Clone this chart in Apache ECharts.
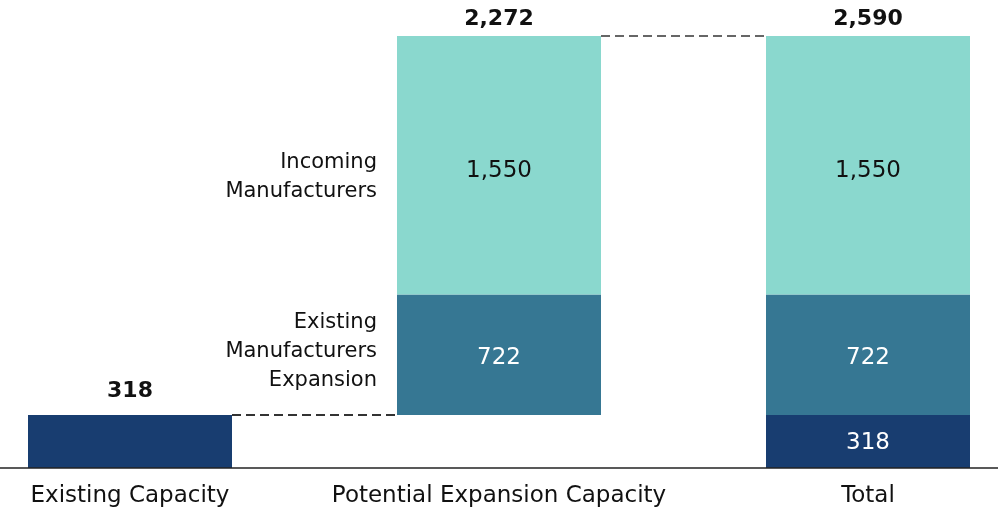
<!DOCTYPE html>
<html><head><meta charset="utf-8">
<script src="https://cdn.jsdelivr.net/npm/echarts@6/dist/echarts.min.js"></script>
<style>html,body{margin:0;padding:0;background:#fff}#c{width:998px;height:513px}</style>
</head><body><div id="c"></div>
<script>
const categories = ['Existing Capacity', 'Potential Expansion Capacity', 'Total'];
const existingCapacity = 318;
const existingMfgExpansion = 722;
const incomingMfg = 1550;
const segmentNames = ['Existing\nManufacturers\nExpansion', 'Incoming\nManufacturers'];

const potentialSum = existingMfgExpansion + incomingMfg;
const totalSum = existingCapacity + potentialSum;
const fmt = v => v.toLocaleString('en-US');

const FONT = 'DejaVu Sans';
const NAVY = '#183d70', TEAL = '#367793', LIGHT = '#8ad8ce';
const BARW = 204;
const DASH_COLORS = ['#333', '#666'];

const chart = echarts.init(document.getElementById('c'), null, {renderer: 'canvas'});
chart.setOption({
  animation: false,
  grid: {left: 130, right: 130, top: 36, bottom: 45},
  xAxis: {
    type: 'category', data: categories, boundaryGap: false,
    axisLine: {show: false},
    axisTick: {show: false},
    axisLabel: {interval: 0, fontFamily: FONT, fontSize: 23, color: '#111', margin: 17}
  },
  yAxis: {type: 'value', min: 0, max: totalSum, show: false, splitLine: {show: false}},
  series: [
    {
      name: 'Existing Capacity', type: 'bar', stack: 's', barWidth: BARW, z: 3,
      data: [
        {value: existingCapacity, itemStyle: {color: NAVY}, label: {show: false}},
        {value: existingCapacity, itemStyle: {color: 'rgba(0,0,0,0)'}, label: {show: false}},
        {value: existingCapacity, itemStyle: {color: NAVY}}
      ],
      label: {show: true, position: 'inside', color: '#fff', fontFamily: FONT, fontSize: 23, offset: [0, 2], formatter: p => fmt(p.value)}
    },
    {
      name: 'Existing Manufacturers Expansion', type: 'bar', stack: 's', barWidth: BARW, z: 3,
      itemStyle: {color: TEAL},
      data: ['-', existingMfgExpansion, existingMfgExpansion],
      label: {show: true, position: 'inside', color: '#fff', fontFamily: FONT, fontSize: 23, offset: [0, 3], formatter: p => fmt(p.value)}
    },
    {
      name: 'Incoming Manufacturers', type: 'bar', stack: 's', barWidth: BARW, z: 3,
      itemStyle: {color: LIGHT},
      data: ['-', incomingMfg, incomingMfg],
      label: {show: true, position: 'inside', color: '#111', fontFamily: FONT, fontSize: 23, offset: [0, 6], formatter: p => fmt(p.value)}
    },
    {
      name: 'connectors', type: 'custom', z: 2, silent: true,
      data: [[0, existingCapacity], [1, totalSum]],
      renderItem: (params, api) => {
        const i = api.value(0), v = api.value(1);
        const a = api.coord([i, v]), b = api.coord([i + 1, v]);
        return {type: 'line', shape: {x1: a[0] + BARW / 2, y1: a[1], x2: b[0] - BARW / 2, y2: b[1]},
          style: {stroke: DASH_COLORS[params.dataIndex], lineWidth: 2, lineDash: [9, 5]}};
      }
    },
    {
      name: 'totals', type: 'scatter', symbolSize: 0, z: 5, silent: true,
      itemStyle: {opacity: 1},
      data: [
        {value: [0, existingCapacity], text: fmt(existingCapacity), label: {distance: 13}},
        {value: [1, totalSum], text: fmt(potentialSum), label: {distance: 6}},
        {value: [2, totalSum], text: fmt(totalSum), label: {distance: 6}}
      ],
      label: {show: true, position: 'top', color: '#111', fontFamily: FONT, fontWeight: 'bold', fontSize: 22,
        formatter: p => p.data.text}
    },
    {
      name: 'segmentNames', type: 'scatter', symbolSize: 0, z: 5, silent: true,
      itemStyle: {opacity: 1},
      data: [
        {value: [1, existingCapacity + existingMfgExpansion / 2], text: segmentNames[0], label: {offset: [0, -3]}},
        {value: [1, existingCapacity + existingMfgExpansion + incomingMfg / 2], text: segmentNames[1], label: {offset: [0, 12]}}
      ],
      label: {show: true, position: 'left', distance: BARW / 2 + 20, align: 'right', color: '#111',
        fontFamily: FONT, fontSize: 21, lineHeight: 29, formatter: p => p.data.text}
    }
  ]
});
const baseY = chart.convertToPixel({yAxisIndex: 0}, 0);
chart.setOption({
  graphic: [{type: 'line', z: 10, silent: true,
    shape: {x1: 0, y1: baseY, x2: chart.getWidth(), y2: baseY},
    style: {stroke: '#222', lineWidth: 1.5}}]
});
</script></body></html>
